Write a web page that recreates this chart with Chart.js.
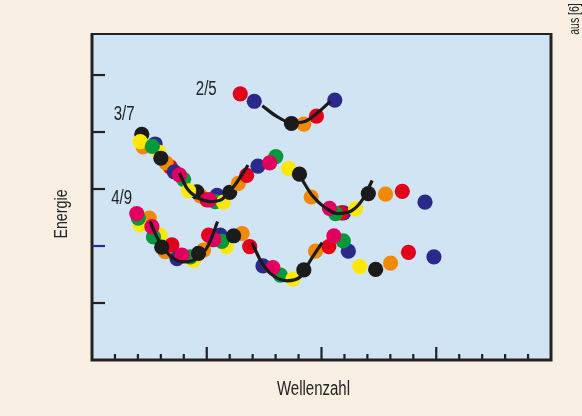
<!DOCTYPE html>
<html>
<head>
<meta charset="utf-8">
<script src="https://cdn.jsdelivr.net/npm/chart.js@4.4.1/dist/chart.umd.min.js"></script>
<style>
  html, body { margin: 0; padding: 0; background: #f8eee2; }
  canvas { display: block; }
</style>
</head>
<body>
<canvas id="chart" width="582" height="416"></canvas>
<script>
// Punkte: [Wellenzahl, Energie, Farbe der Messreihe]
const punkte25 = [
  [6.46, 4.67, 'R'], [7.07, 4.54, 'N'], [9.23, 4.14, 'O'], [8.69, 4.15, 'K'],
  [9.78, 4.28, 'R'], [10.58, 4.56, 'N']
];
const punkte37 = [
  [2.17, 3.96, 'K'], [2.23, 3.74, 'O'], [2.10, 3.83, 'Y'], [2.75, 3.79, 'N'],
  [2.90, 3.65, 'Y'], [2.63, 3.75, 'G'], [3.41, 3.39, 'R'], [3.23, 3.46, 'O'],
  [3.00, 3.54, 'K'], [3.59, 3.30, 'N'], [3.99, 3.17, 'G'], [3.81, 3.25, 'M'],
  [4.72, 2.88, 'O'], [4.57, 2.95, 'K'], [4.21, 2.97, 'Y'], [5.45, 2.89, 'N'],
  [5.37, 2.78, 'G'], [5.73, 2.77, 'Y'], [5.01, 2.81, 'R'], [5.12, 2.81, 'M'],
  [6.00, 2.94, 'K'], [6.38, 3.10, 'O'], [6.74, 3.24, 'R'], [7.23, 3.40, 'N'],
  [8.01, 3.57, 'G'], [7.74, 3.46, 'M'], [8.57, 3.36, 'Y'], [9.04, 3.26, 'K'],
  [9.55, 2.86, 'O'], [10.96, 2.58, 'N'], [10.86, 2.58, 'R'], [10.61, 2.57, 'G'],
  [10.35, 2.66, 'M'], [11.48, 2.65, 'Y'], [12.04, 2.92, 'K'], [12.79, 2.91, 'O'],
  [13.52, 2.96, 'R'], [14.51, 2.77, 'N']
];
const punkte49 = [
  [2.50, 2.49, 'O'], [2.10, 2.37, 'Y'], [2.02, 2.49, 'G'], [1.95, 2.57, 'M'],
  [2.97, 2.19, 'Y'], [2.68, 2.16, 'G'], [2.61, 2.34, 'M'], [3.19, 1.90, 'O'],
  [3.48, 2.02, 'R'], [3.04, 1.98, 'K'], [3.70, 1.78, 'N'], [4.42, 1.75, 'Y'],
  [4.28, 1.81, 'G'], [3.92, 1.84, 'M'], [4.86, 1.93, 'O'], [4.64, 1.87, 'K'],
  [5.85, 1.99, 'Y'], [5.59, 2.19, 'N'], [5.66, 2.08, 'G'], [5.08, 2.19, 'R'],
  [5.30, 2.11, 'M'], [6.54, 2.22, 'O'], [6.17, 2.18, 'K'], [6.87, 1.99, 'R'],
  [7.45, 1.65, 'N'], [8.21, 1.49, 'G'], [7.88, 1.62, 'M'], [8.75, 1.42, 'Y'],
  [9.23, 1.58, 'K'], [9.74, 1.91, 'O'], [10.32, 1.99, 'R'], [11.17, 1.91, 'N'],
  [10.95, 2.09, 'G'], [10.54, 2.18, 'M'], [11.67, 1.64, 'Y'], [12.36, 1.59, 'K'],
  [13.01, 1.70, 'O'], [13.79, 1.89, 'R'], [14.90, 1.81, 'N']
];

// Angepasste Kurven (schwarz)
const kurve25 = [[7.42, 4.46], [8.03, 4.28], [8.69, 4.16], [9.30, 4.19], [9.87, 4.35], [10.39, 4.54]];
const kurve37a = [[3.81, 3.28], [4.14, 3.01], [4.64, 2.84], [5.15, 2.78], [5.66, 2.82], [6.17, 3.04], [6.80, 3.42]];
const kurve37b = [[9.16, 3.16], [9.59, 2.89], [10.10, 2.69], [10.69, 2.57], [11.27, 2.61], [11.78, 2.81], [12.21, 3.15]];
const kurve49a = [[2.53, 2.43], [2.83, 2.16], [3.19, 1.93], [3.55, 1.78], [3.99, 1.72], [4.57, 1.78], [5.08, 2.02], [5.47, 2.43]];
const kurve49b = [[6.97, 2.06], [7.34, 1.75], [7.77, 1.52], [8.50, 1.39], [9.08, 1.46], [9.52, 1.75], [10.03, 2.06]];

// Beschriftung der Füllfaktoren
const brueche = ['2/5', '3/7', '4/9'];
const bruchPos = [[4.98, 4.74], [1.40, 4.30], [1.29, 2.83]];

const xTicks = [1, 2, 3, 4, 5, 6, 7, 8, 9, 10, 11, 12, 13, 14, 15, 16, 17, 18, 19];
const xMajor = [5, 10, 15];
const yTicks = [1, 2, 3, 4, 5];

const farben = {
  R: '#e3001b', N: '#2b2a8b', K: '#1b1b1b', O: '#f18a00',
  Y: '#ffe800', G: '#009a3d', M: '#e2005e'
};
const FONT = "'Liberation Sans', 'DejaVu Sans', sans-serif";

function punktSet(arr) {
  return {
    type: 'scatter',
    data: arr.map(p => ({ x: p[0], y: p[1] })),
    backgroundColor: arr.map(p => farben[p[2]]),
    pointRadius: 7.6,
    pointBorderWidth: 0,
    pointHoverRadius: 7.6,
    order: 2
  };
}
function kurvenSet(arr) {
  return {
    type: 'line',
    data: arr.map(p => ({ x: p[0], y: p[1] })),
    borderColor: '#1b1b1b',
    borderWidth: 3.2,
    pointRadius: 0,
    tension: 0.4,
    cubicInterpolationMode: 'monotone',
    fill: false,
    order: 1
  };
}

// schmale Schrift: horizontal gestaucht
function schmal(ctx, text, x, y, size, rot) {
  ctx.save();
  ctx.translate(x, y);
  if (rot) ctx.rotate(rot);
  ctx.scale(0.75, 1);
  ctx.font = size + 'px ' + FONT;
  ctx.fillText(text, 0, 0);
  ctx.restore();
}

// Hintergrund, Rahmen, Ticks und Texte
const rahmen = {
  id: 'rahmen',
  beforeDraw(chart) {
    const { ctx, chartArea: a } = chart;
    ctx.save();
    ctx.fillStyle = '#f8eee2';
    ctx.fillRect(0, 0, chart.width, chart.height);
    ctx.fillStyle = '#d0e4f4';
    ctx.fillRect(a.left, a.top, a.right - a.left, a.bottom - a.top);
    ctx.restore();
  },
  afterDatasetsDraw(chart) {
    const { ctx, chartArea: a, scales } = chart;
    ctx.save();
    ctx.strokeStyle = '#222';
    ctx.lineCap = 'butt';
    // Rahmen
    ctx.lineWidth = 2.2;
    ctx.beginPath();
    ctx.moveTo(a.left, a.top); ctx.lineTo(a.right, a.top);
    ctx.stroke();
    ctx.lineWidth = 3;
    ctx.beginPath();
    ctx.moveTo(a.right, a.top - 1); ctx.lineTo(a.right, a.bottom);
    ctx.moveTo(a.left, a.top - 1); ctx.lineTo(a.left, a.bottom);
    ctx.moveTo(a.left - 1.5, a.bottom); ctx.lineTo(a.right + 1.5, a.bottom);
    ctx.stroke();
    // Ticks
    ctx.lineWidth = 2.2;
    ctx.beginPath();
    xTicks.forEach(v => {
      const px = scales.x.getPixelForValue(v);
      const len = xMajor.includes(v) ? 13 : 6;
      ctx.moveTo(px, a.bottom); ctx.lineTo(px, a.bottom - len);
    });
    ctx.stroke();
    yTicks.forEach(v => {
      const py = scales.y.getPixelForValue(v);
      ctx.strokeStyle = v === 2 ? '#2b2a8b' : '#222';
      ctx.beginPath();
      ctx.moveTo(a.left, py); ctx.lineTo(a.left + 13, py);
      ctx.stroke();
    });
    // Bruchzahlen
    ctx.fillStyle = '#222';
    ctx.textAlign = 'center';
    ctx.textBaseline = 'middle';
    brueche.forEach((t, i) => {
      schmal(ctx, t, scales.x.getPixelForValue(bruchPos[i][0]), scales.y.getPixelForValue(bruchPos[i][1]), 20);
    });
    // Achsentitel
    schmal(ctx, 'Wellenzahl', (a.left + a.right) / 2 - 8, 389, 20);
    schmal(ctx, 'Energie', 62, 214, 19, -Math.PI / 2);
    schmal(ctx, 'aus [6]', 575, 19, 14, -Math.PI / 2);
    ctx.restore();
  }
};

new Chart(document.getElementById('chart'), {
  type: 'scatter',
  data: {
    datasets: [
      kurvenSet(kurve25), kurvenSet(kurve37a), kurvenSet(kurve37b),
      kurvenSet(kurve49a), kurvenSet(kurve49b),
      punktSet(punkte25), punktSet(punkte37), punktSet(punkte49)
    ]
  },
  options: {
    responsive: false,
    animation: false,
    layout: { padding: { left: 92, right: 31, top: 34, bottom: 56 } },
    scales: {
      x: { type: 'linear', display: false, min: 0, max: 20 },
      y: { type: 'linear', display: false, min: 0, max: 5.72 }
    },
    plugins: {
      legend: { display: false },
      tooltip: { enabled: false }
    }
  },
  plugins: [rahmen]
});
</script>
</body>
</html>
